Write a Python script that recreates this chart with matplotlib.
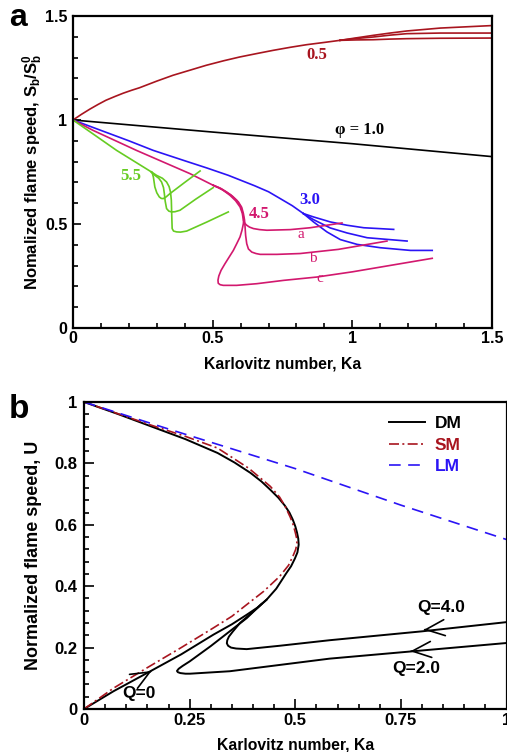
import matplotlib
matplotlib.use("Agg")
import matplotlib.pyplot as plt
from matplotlib.ticker import MultipleLocator, FixedLocator, FixedFormatter

plt.rcParams['font.family'] = ['Liberation Sans', 'DejaVu Sans']
plt.rcParams['font.weight'] = 'bold'
plt.rcParams['mathtext.fontset'] = 'custom'
plt.rcParams['mathtext.rm'] = 'Liberation Sans:bold'
plt.rcParams['mathtext.bf'] = 'Liberation Sans:bold'
plt.rcParams['mathtext.default'] = 'bf'

# ---------------- Panel a data ----------------
phi05_main_x = [0, 0.03, 0.06, 0.09, 0.118, 0.15, 0.18, 0.21, 0.238, 0.3, 0.358, 0.42, 0.477,
                0.54, 0.597, 0.66, 0.717, 0.78, 0.836, 0.9, 0.956]
phi05_main_y = [1.0, 1.027, 1.052, 1.075, 1.095, 1.113, 1.129, 1.143, 1.155, 1.187, 1.215,
                1.240, 1.263, 1.285, 1.303, 1.320, 1.335, 1.350, 1.362, 1.373, 1.383]
phi05_end_x = [0.956, 1.015, 1.075, 1.135, 1.195, 1.315, 1.5]
phi05_top_y = [1.383, 1.395, 1.407, 1.418, 1.428, 1.442, 1.454]
phi05_mid_y = [1.383, 1.392, 1.399, 1.408, 1.415, 1.418, 1.418]
phi05_bot_y = [1.383, 1.385, 1.386, 1.389, 1.391, 1.393, 1.394]

phi10_x = [0, 0.5, 1.0, 1.5]
phi10_y = [1.0, 0.942, 0.886, 0.824]

phi30_main_x = [0, 0.1, 0.2, 0.287, 0.4, 0.48, 0.556, 0.65, 0.70, 0.742, 0.785, 0.825]
phi30_main_y = [1.0, 0.95, 0.9, 0.854, 0.804, 0.769, 0.734, 0.684, 0.655, 0.622, 0.588, 0.550]
phi30_top_x = [0.825, 0.861, 0.921, 0.981, 1.041, 1.148]
phi30_top_y = [0.550, 0.534, 0.510, 0.494, 0.482, 0.474]
phi30_mid_x = [0.825, 0.861, 0.921, 0.981, 1.053, 1.196]
phi30_mid_y = [0.550, 0.521, 0.481, 0.457, 0.434, 0.418]
phi30_bot_x = [0.825, 0.861, 0.909, 0.957, 1.017, 1.100, 1.208, 1.286]
phi30_bot_y = [0.550, 0.510, 0.462, 0.425, 0.402, 0.386, 0.373, 0.373]

phi45_main_x = [0, 0.072, 0.227, 0.419, 0.502]
phi45_main_y = [1.0, 0.950, 0.854, 0.742, 0.686]
phi45_a_x = [0.502, 0.535, 0.562, 0.582, 0.598, 0.606, 0.610, 0.615, 0.622, 0.632, 0.646,
             0.668, 0.694, 0.778, 0.849, 0.963]
phi45_a_y = [0.686, 0.665, 0.638, 0.612, 0.582, 0.552, 0.518, 0.503, 0.494, 0.485, 0.478,
             0.473, 0.470, 0.473, 0.482, 0.505]
phi45_b_x = [0.502, 0.528, 0.550, 0.572, 0.592, 0.604, 0.610, 0.614, 0.616, 0.618, 0.622,
             0.628, 0.640, 0.655, 0.670, 0.730, 0.813, 0.950, 1.124]
phi45_b_y = [0.686, 0.672, 0.654, 0.632, 0.606, 0.580, 0.550, 0.520, 0.486, 0.445, 0.405,
             0.380, 0.365, 0.358, 0.354, 0.354, 0.358, 0.378, 0.418]
phi45_c_x = [0.502, 0.520, 0.538, 0.565, 0.586, 0.600, 0.608, 0.611, 0.610, 0.605, 0.598,
             0.586, 0.574, 0.559, 0.544, 0.530, 0.522, 0.519, 0.520, 0.527, 0.538,
             0.586, 0.658, 0.754, 0.873, 1.0, 1.286]
phi45_c_y = [0.686, 0.676, 0.662, 0.640, 0.614, 0.585, 0.550, 0.525, 0.502, 0.470, 0.438,
             0.405, 0.373, 0.341, 0.309, 0.277, 0.250, 0.230, 0.215, 0.208, 0.205,
             0.205, 0.213, 0.229, 0.245, 0.270, 0.335]

phi55_main_x = [0, 0.075, 0.156, 0.281]
phi55_main_y = [1.0, 0.930, 0.854, 0.750]
phi55_1_x = [0.281, 0.285, 0.288, 0.293, 0.300, 0.309, 0.316, 0.323, 0.333, 0.347, 0.400, 0.455]
phi55_1_y = [0.750, 0.740, 0.724, 0.678, 0.650, 0.630, 0.623, 0.622, 0.630, 0.646, 0.700, 0.755]
phi55_2_x = [0.281, 0.293, 0.307, 0.317, 0.324, 0.327, 0.330, 0.335, 0.343, 0.353, 0.365,
             0.383, 0.440, 0.502]
phi55_2_y = [0.750, 0.734, 0.720, 0.702, 0.675, 0.646, 0.610, 0.574, 0.562, 0.558, 0.559,
             0.566, 0.620, 0.675]
phi55_3_x = [0.281, 0.299, 0.320, 0.335, 0.344, 0.349, 0.352, 0.353, 0.354, 0.355, 0.360,
             0.371, 0.385, 0.407, 0.480, 0.556]
phi55_3_y = [0.750, 0.734, 0.720, 0.702, 0.680, 0.654, 0.615, 0.566, 0.520, 0.478, 0.466,
             0.462, 0.461, 0.466, 0.510, 0.558]

labels_a_text = ['0.5', 'φ = 1.0', '3.0', '4.5', '5.5']
labels_a_x = [0.873, 1.025, 0.847, 0.667, 0.207]
labels_a_y = [1.311, 0.954, 0.617, 0.550, 0.731]
branch_text = ['a', 'b', 'c']
branch_x = [0.817, 0.858, 0.885]
branch_y = [0.449, 0.332, 0.240]

# ---------------- Panel b data ----------------
dm_x = [0, 0.070, 0.149, 0.230, 0.306, 0.350, 0.385, 0.410, 0.432, 0.455, 0.479, 0.490,
        0.499, 0.505, 0.508, 0.507, 0.504, 0.500, 0.494, 0.486, 0.475, 0.460, 0.441, 0.420,
        0.394, 0.356, 0.316, 0.240, 0.158, 0.080, 0]
dm_y = [0, 0.058, 0.117, 0.178, 0.242, 0.276, 0.307, 0.330, 0.356, 0.392, 0.443, 0.465,
        0.490, 0.510, 0.535, 0.555, 0.575, 0.595, 0.617, 0.640, 0.663, 0.688, 0.714, 0.741,
        0.769, 0.803, 0.834, 0.879, 0.921, 0.961, 1.0]
sm_x = [0, 0.070, 0.149, 0.230, 0.306, 0.350, 0.385, 0.425, 0.463, 0.484, 0.495, 0.501,
        0.504, 0.503, 0.500, 0.495, 0.488, 0.476, 0.463, 0.441, 0.390, 0.316, 0.240, 0.158, 0.080, 0]
sm_y = [0, 0.068, 0.134, 0.200, 0.264, 0.302, 0.340, 0.383, 0.432, 0.468, 0.500, 0.520,
        0.540, 0.557, 0.575, 0.600, 0.625, 0.660, 0.690, 0.725, 0.784, 0.850, 0.888, 0.925, 0.962, 1.0]
lm_x = [0, 0.2, 0.5, 0.75, 1.0]
lm_y = [1.0, 0.912, 0.783, 0.664, 0.552]
q4_x = [0.432, 0.416, 0.390, 0.369, 0.352, 0.343, 0.339, 0.338, 0.341, 0.348, 0.360, 0.385,
        0.463, 0.581, 0.80, 1.0]
q4_y = [0.356, 0.336, 0.305, 0.280, 0.252, 0.236, 0.224, 0.214, 0.206, 0.200, 0.197, 0.195,
        0.206, 0.224, 0.253, 0.283]
q2_x = [0.420, 0.385, 0.300, 0.250, 0.233, 0.224, 0.220, 0.222, 0.228, 0.240, 0.251, 0.345,
        0.581, 1.0]
q2_y = [0.342, 0.296, 0.205, 0.155, 0.140, 0.131, 0.124, 0.120, 0.117, 0.115, 0.115, 0.123,
        0.164, 0.215]
arrow_tip_x = [0.804, 0.772, 0.160]
arrow_tip_y = [0.258, 0.188, 0.124]
arrow_dir_x = [1.0, 1.0, -1.0]
arrow_slope = [0.141, 0.122, 0.79]
q_text = ['Q=4.0', 'Q=2.0', 'Q=0']
q_x = [0.845, 0.786, 0.131]
q_y = [0.329, 0.131, 0.052]

RED = '#a8151f'
BLUE = '#2b14f5'
PINK = '#d2186e'
GREEN = '#66cc22'

fig = plt.figure(figsize=(5.07, 7.52), dpi=100)

# ================= Panel a =================
ax1 = fig.add_axes([73 / 507, 1 - 328 / 752, 419 / 507, 312 / 752])
lw = 1.2
kw = dict(lw=lw, solid_joinstyle='round')
ax1.plot(phi05_main_x, phi05_main_y, color=RED, **kw)
for yy in (phi05_top_y, phi05_mid_y, phi05_bot_y):
    ax1.plot(phi05_end_x, yy, color=RED, **kw)
ax1.plot(phi10_x, phi10_y, color='black', **kw)
ax1.plot(phi30_main_x, phi30_main_y, color=BLUE, **kw)
ax1.plot(phi30_top_x, phi30_top_y, color=BLUE, **kw)
ax1.plot(phi30_mid_x, phi30_mid_y, color=BLUE, **kw)
ax1.plot(phi30_bot_x, phi30_bot_y, color=BLUE, **kw)
ax1.plot(phi45_main_x, phi45_main_y, color=PINK, **kw)
ax1.plot(phi45_a_x, phi45_a_y, color=PINK, **kw)
ax1.plot(phi45_b_x, phi45_b_y, color=PINK, **kw)
ax1.plot(phi45_c_x, phi45_c_y, color=PINK, **kw)
ax1.plot(phi55_main_x, phi55_main_y, color=GREEN, **kw)
ax1.plot(phi55_1_x, phi55_1_y, color=GREEN, **kw)
ax1.plot(phi55_2_x, phi55_2_y, color=GREEN, **kw)
ax1.plot(phi55_3_x, phi55_3_y, color=GREEN, **kw)

label_colors = [RED, 'black', BLUE, PINK, GREEN]
for t, x, y, c in zip(labels_a_text, labels_a_x, labels_a_y, label_colors):
    ax1.text(x, y, t, color=c, fontsize=12, fontweight='bold',
             family=['Liberation Serif', 'DejaVu Serif'], ha='center', va='center')
for t, x, y in zip(branch_text, branch_x, branch_y):
    ax1.text(x, y, t, color=PINK, fontsize=11, fontweight='normal',
             family=['Liberation Serif', 'DejaVu Serif'], ha='center', va='center')

ax1.set_xlim(0, 1.5)
ax1.set_ylim(0, 1.5)
ax1.xaxis.set_major_locator(FixedLocator([0, 0.5, 1.0, 1.5]))
ax1.xaxis.set_major_formatter(FixedFormatter(['0', '0.5', '1', '1.5']))
ax1.xaxis.set_minor_locator(MultipleLocator(0.1))
ax1.yaxis.set_major_locator(FixedLocator([0, 0.5, 1.0, 1.5]))
ax1.yaxis.set_major_formatter(FixedFormatter(['0', '0.5', '1', '1.5']))
ax1.yaxis.set_minor_locator(MultipleLocator(0.1))
ax1.tick_params(which='both', direction='in', top=False, right=False, width=1.2)
ax1.tick_params(which='major', length=5.5, labelsize=11.5)
ax1.tick_params(which='minor', length=3.3)
ax1.tick_params(axis='x', which='major', pad=2)
ax1.tick_params(axis='y', which='major', pad=4)
for s in ax1.spines.values():
    s.set_linewidth(1.6)
ax1.set_xlabel('Karlovitz number, Ka', fontsize=11.3, fontweight='bold', labelpad=8)
ax1.set_ylabel(r'Nomalized flame speed, S$_b$/S$_b^0$', fontsize=12, fontweight='bold')
ax1.yaxis.set_label_coords(-0.068, 0.5)

fig.text(18 / 507, 1 - 18 / 752, 'a', fontsize=23, fontweight='bold', ha='center', va='center')

# ================= Panel b =================
ax2 = fig.add_axes([84 / 507, 1 - 709 / 752, 422.6 / 507, 307 / 752])
kb = dict(solid_joinstyle='round')
ax2.plot(dm_x, dm_y, color='black', lw=1.4, label='DM', **kb)
ax2.plot(sm_x, sm_y, color=RED, lw=1.2, dashes=(6, 2, 1.2, 2), label='SM')
ax2.plot(lm_x, lm_y, color=BLUE, lw=1.2, dashes=(7, 4.5), label='LM')
ax2.plot(q4_x, q4_y, color='black', lw=1.4, **kb)
ax2.plot(q2_x, q2_y, color='black', lw=1.4, **kb)

for tx, ty, dx, sl in zip(arrow_tip_x, arrow_tip_y, arrow_dir_x, arrow_slope):
    d = 0.002 * dx
    ax2.annotate('', xy=(tx, ty), xytext=(tx + d, ty + d * sl),
                 arrowprops=dict(arrowstyle='->,head_length=0.75,head_width=0.32',
                                 color='black', lw=1.2, shrinkA=0, shrinkB=0,
                                 mutation_scale=18))

for t, x, y in zip(q_text, q_x, q_y):
    ax2.text(x, y, t, fontsize=12.5, fontweight='bold', ha='center', va='center')

ax2.set_xlim(0, 1)
ax2.set_ylim(0, 1)
ax2.xaxis.set_major_locator(FixedLocator([0, 0.25, 0.5, 0.75, 1.0]))
ax2.xaxis.set_major_formatter(FixedFormatter(['0', '0.25', '0.5', '0.75', '1']))
ax2.xaxis.set_minor_locator(MultipleLocator(0.05))
ax2.yaxis.set_major_locator(FixedLocator([0, 0.2, 0.4, 0.6, 0.8, 1.0]))
ax2.yaxis.set_major_formatter(FixedFormatter(['0', '0.2', '0.4', '0.6', '0.8', '1']))
ax2.yaxis.set_minor_locator(MultipleLocator(0.04))
ax2.tick_params(which='both', direction='in', top=False, right=False, width=1.2)
ax2.tick_params(which='major', length=7, labelsize=12)
ax2.tick_params(which='minor', length=3.5)
ax2.tick_params(axis='x', which='major', pad=3)
ax2.tick_params(axis='y', which='major', pad=5)
for s in ax2.spines.values():
    s.set_linewidth(1.6)
ax2.set_xlabel('Karlovitz number, Ka', fontsize=11.3, fontweight='bold', labelpad=7)
ax2.set_ylabel('Normalized flame speed, U', fontsize=13, fontweight='bold', labelpad=9)

leg = ax2.legend(loc='upper right', bbox_to_anchor=(0.894, 0.955), frameon=False,
                 borderpad=0, borderaxespad=0, handlelength=2.1, handletextpad=0.55,
                 labelspacing=0.38, prop={'size': 12.5, 'weight': 'bold'})
for txt, c in zip(leg.get_texts(), ['black', RED, BLUE]):
    txt.set_color(c)

fig.text(19 / 507, 1 - 410 / 752, 'b', fontsize=24, fontweight='bold', ha='center', va='center')

fig.savefig('out.png', dpi=100)
